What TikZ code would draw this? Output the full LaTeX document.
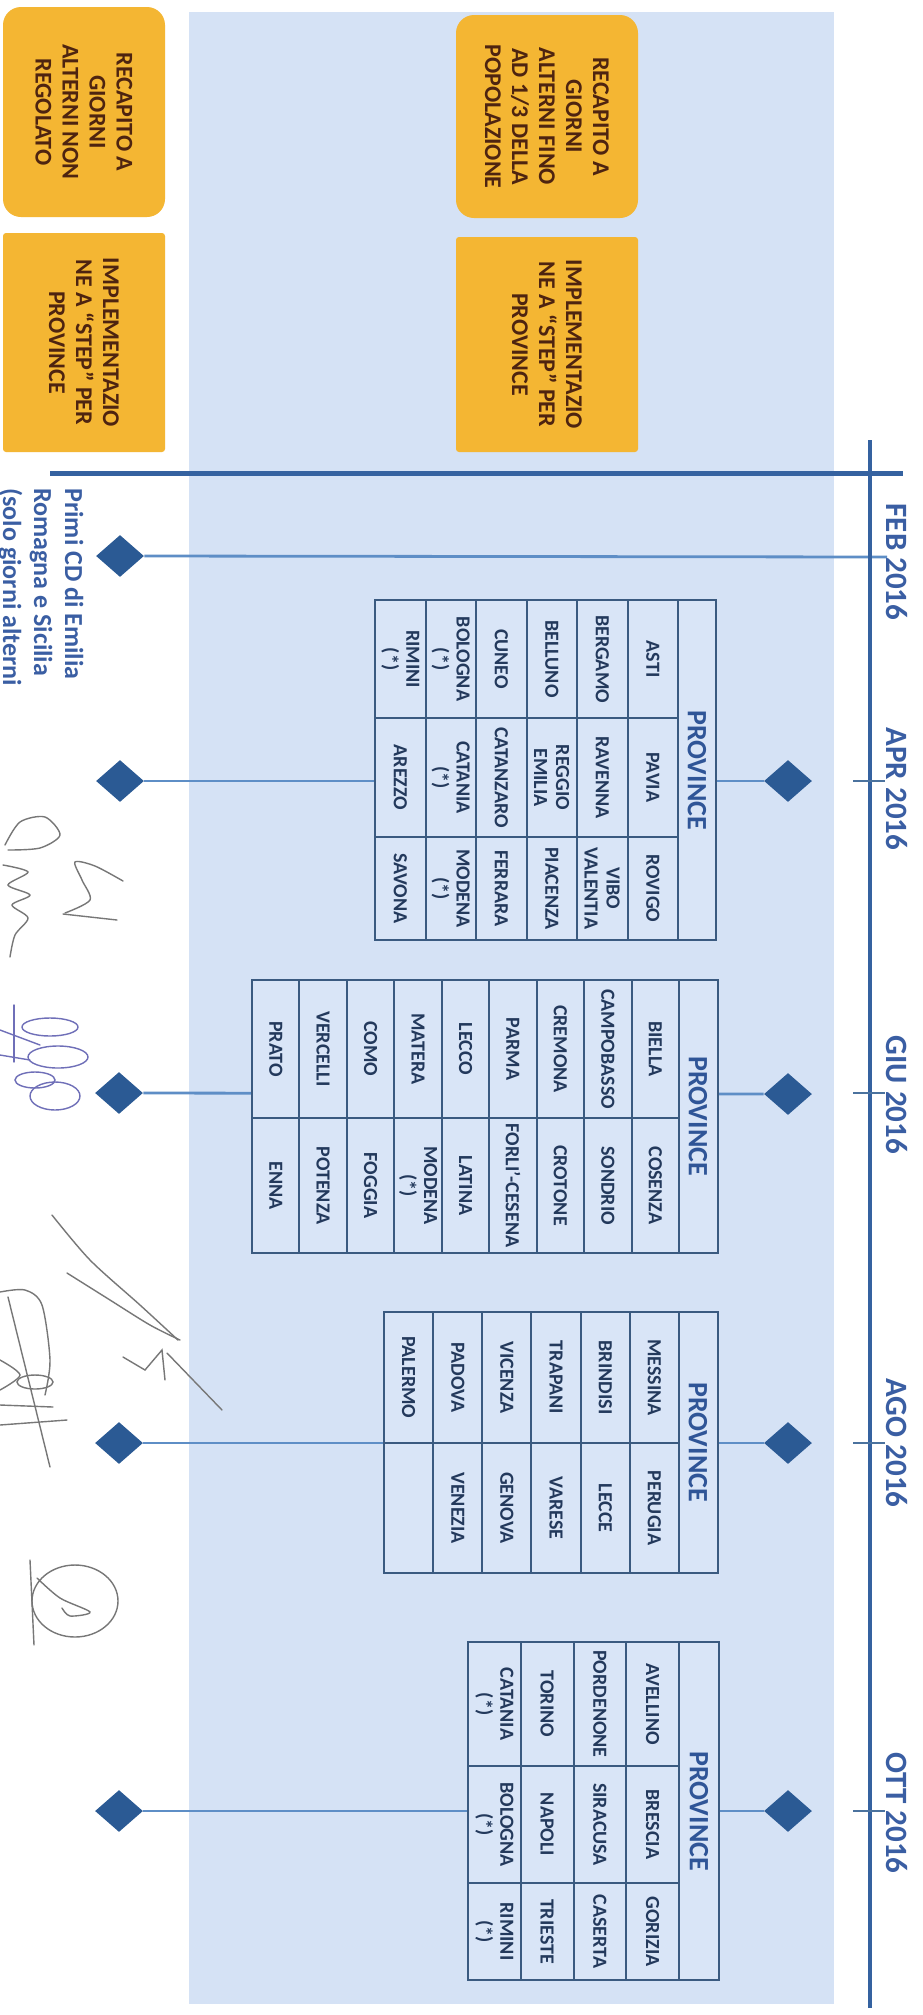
\documentclass[tikz,border=0pt]{standalone}
\usepackage{fontspec}
\setmainfont{Carlito}
\usetikzlibrary{shapes.geometric}
\definecolor{bgblue}{HTML}{D5E2F5}
\definecolor{tabfill}{HTML}{D9E5F7}
\definecolor{axisblue}{HTML}{3562A0}
\definecolor{diacol}{HTML}{2B5A94}
\definecolor{conncol}{HTML}{5E8EC6}
\definecolor{gold}{HTML}{F4B633}
\definecolor{goldtext}{HTML}{4E2410}
\definecolor{tabline}{HTML}{3A5A80}
\definecolor{tabtext}{HTML}{23395C}
\definecolor{hdrtext}{HTML}{2F5597}
\definecolor{lbltext}{HTML}{3A5EA3}
\definecolor{sigray}{HTML}{777777}
\definecolor{sigblue}{HTML}{6F6FB8}
\tikzset{
  obox/.style={fill=gold, rotate=-90, align=center, inner sep=0pt,
    font=\bfseries\fontsize{12}{13.5}\selectfont, text=goldtext},
  diam/.style={diamond, fill=diacol, minimum width=24pt, minimum height=21pt, inner sep=0pt},
  cellt/.style={rotate=-90, align=center, inner sep=0pt,
    font=\bfseries\fontsize{10}{11}\selectfont, text=tabtext},
  hdr/.style={rotate=-90, inner sep=0pt, font=\bfseries\fontsize{14}{16}\selectfont, text=hdrtext},
  datelbl/.style={rotate=-90, inner sep=0pt, font=\bfseries\fontsize{15.5}{18}\selectfont, text=lbltext},
  connline/.style={draw=conncol, line width=1.4pt},
  tabgrid/.style={draw=tabline, line width=1pt},
  tickln/.style={draw=conncol!80!black, line width=1pt},
  axisln/.style={draw=axisblue},
  sig/.style={draw=sigray, line width=0.7pt, line cap=round},
  sigb/.style={draw=sigblue, line width=0.7pt, line cap=round}
}
\begin{document}
\begin{tikzpicture}[x=0.5pt,y=-0.5pt]
\useasboundingbox (0,0) rectangle (922,2015);
\fill[white] (0,0) rectangle (922,2015);
% background panel
\fill[bgblue] (189,12) rectangle (834,2004);

% diamonds
\node[diam] (ldFeb) at (120,556) {};
\node[diam] (ldApr) at (120,781) {};
\node[diam] (ldGiu) at (119,1093) {};
\node[diam] (ldAgo) at (119,1443) {};
\node[diam] (ldOtt) at (119,1811) {};
\node[diam] (rdApr) at (788,781) {};
\node[diam] (rdGiu) at (788,1094) {};
\node[diam] (rdAgo) at (788,1443) {};
\node[diam] (rdOtt) at (788,1811) {};

% axis coordinates
\coordinate (tFeb) at (887,557);
\coordinate (tApr) at (870,781);
\coordinate (tGiu) at (870,1093);
\coordinate (tAgo) at (870,1443);
\coordinate (tOtt) at (870,1811);

% connectors
\draw[connline] (ldFeb.east) -- (tFeb);
\draw[connline] (rdApr.west) -- (ldApr.east);
\draw[connline] (rdGiu.west) -- (ldGiu.east);
\draw[connline] (rdAgo.west) -- (ldAgo.east);
\draw[connline] (rdOtt.west) -- (ldOtt.east);

% ===== APR table =====
\draw[tabgrid, fill=tabfill] (375,600) rectangle (716,940);
\draw[tabgrid] (678,600) -- (678,940);
\foreach \i in {1,...,5} \draw[tabgrid] ({678-\i*50.5},600) -- ({678-\i*50.5},940);
\draw[tabgrid] (375,718) -- (678,718);
\draw[tabgrid] (375,837) -- (678,837);
\node[hdr] (aprH) at (697,770) {PROVINCE};
\foreach \t [count=\k from 0] in {ASTI,PAVIA,ROVIGO,BERGAMO,RAVENNA,{VIBO\\VALENTIA},BELLUNO,{REGGIO\\EMILIA},PIACENZA,CUNEO,CATANZARO,FERRARA,{BOLOGNA\\(*)},{CATANIA\\(*)},{MODENA\\(*)},{RIMINI\\(*)},AREZZO,SAVONA}{
  \pgfmathtruncatemacro\r{int(\k/3)}
  \pgfmathtruncatemacro\c{mod(\k,3)}
  \pgfmathsetmacro\cx{678-(\r+0.5)*50.5}
  \pgfmathsetmacro\cy{{659,777.5,888.5}[\c]}
  \node[cellt] (apr-\k) at (\cx,\cy) {\t};
}

% ===== GIU table =====
\draw[tabgrid, fill=tabfill] (252,980) rectangle (718,1253);
\draw[tabgrid] (679,980) -- (679,1253);
\foreach \i in {1,...,8} \draw[tabgrid] ({679-\i*47.44},980) -- ({679-\i*47.44},1253);
\draw[tabgrid] (252,1118) -- (679,1118);
\node[hdr] (giuH) at (698,1116) {PROVINCE};
\foreach \t [count=\k from 0] in {BIELLA,COSENZA,CAMPOBASSO,SONDRIO,CREMONA,CROTONE,PARMA,FORLI'-CESENA,LECCO,LATINA,MATERA,{MODENA\\(*)},COMO,FOGGIA,VERCELLI,POTENZA,PRATO,ENNA}{
  \pgfmathtruncatemacro\r{int(\k/2)}
  \pgfmathtruncatemacro\c{mod(\k,2)}
  \pgfmathsetmacro\cx{679-(\r+0.5)*47.44}
  \pgfmathsetmacro\cy{{1049,1185.5}[\c]}
  \node[cellt] (giu-\k) at (\cx,\cy) {\t};
}

% ===== AGO table =====
\draw[tabgrid, fill=tabfill] (384,1312) rectangle (718,1573);
\draw[tabgrid] (679,1312) -- (679,1573);
\foreach \i in {1,...,5} \draw[tabgrid] ({679-\i*49.17},1312) -- ({679-\i*49.17},1573);
\draw[tabgrid] (384,1443) -- (679,1443);
\node[hdr] (agoH) at (698,1442) {PROVINCE};
\foreach \t [count=\k from 0] in {MESSINA,PERUGIA,BRINDISI,LECCE,TRAPANI,VARESE,VICENZA,GENOVA,PADOVA,VENEZIA,PALERMO}{
  \pgfmathtruncatemacro\r{int(\k/2)}
  \pgfmathtruncatemacro\c{mod(\k,2)}
  \pgfmathsetmacro\cx{679-(\r+0.5)*49.17}
  \pgfmathsetmacro\cy{{1377.5,1508}[\c]}
  \node[cellt] (ago-\k) at (\cx,\cy) {\t};
}

% ===== OTT table =====
\draw[tabgrid, fill=tabfill] (468,1642) rectangle (719,1980);
\draw[tabgrid] (679,1642) -- (679,1980);
\foreach \i in {1,...,3} \draw[tabgrid] ({679-\i*52.75},1642) -- ({679-\i*52.75},1980);
\draw[tabgrid] (468,1766) -- (679,1766);
\draw[tabgrid] (468,1883) -- (679,1883);
\node[hdr] (ottH) at (699,1811) {PROVINCE};
\foreach \t [count=\k from 0] in {AVELLINO,BRESCIA,GORIZIA,PORDENONE,SIRACUSA,CASERTA,TORINO,NAPOLI,TRIESTE,{CATANIA\\(*)},{BOLOGNA\\(*)},{RIMINI\\(*)}}{
  \pgfmathtruncatemacro\r{int(\k/3)}
  \pgfmathtruncatemacro\c{mod(\k,3)}
  \pgfmathsetmacro\cx{679-(\r+0.5)*52.75}
  \pgfmathsetmacro\cy{{1704,1824.5,1931.5}[\c]}
  \node[cellt] (ott-\k) at (\cx,\cy) {\t};
}

% ===== orange boxes =====
\node[obox, rounded corners=9pt, minimum width=101.5pt, minimum height=91pt] (boxA) at (547,116.5)
  {RECAPITO A\\GIORNI\\ALTERNI FINO\\AD 1/3 DELLA\\POPOLAZIONE};
\node[obox, rounded corners=1.5pt, minimum width=107.5pt, minimum height=91pt] (boxB) at (547,344.5)
  {IMPLEMENTAZIO\\NE A “STEP” PER\\PROVINCE};
\node[obox, rounded corners=9pt, minimum width=105pt, minimum height=81pt] (boxC) at (84,112)
  {RECAPITO A\\GIORNI\\ALTERNI NON\\REGOLATO};
\node[obox, rounded corners=1.5pt, minimum width=109.5pt, minimum height=81pt] (boxD) at (84,342.5)
  {IMPLEMENTAZIO\\NE A “STEP” PER\\PROVINCE};

% ===== timeline axis =====
\coordinate (hL) at (50,473);
\coordinate (hR) at (903,473);
\coordinate (vT) at (870,440);
\coordinate (vB) at (870,2008);
\draw[axisln, line width=2.5pt] (hL) -- (hR);
\draw[axisln, line width=2pt] (vT) -- (vB);
\foreach \yy in {781,1093,1443,1811} \draw[tickln] (853,\yy) -- (885,\yy);

% date labels
\node[datelbl] (lFeb) at (897,562) {FEB 2016};
\node[datelbl] (lApr) at (897,789) {APR 2016};
\node[datelbl] (lGiu) at (897,1095) {GIU 2016};
\node[datelbl] (lAgo) at (897,1443) {AGO 2016};
\node[datelbl] (lOtt) at (897,1813) {OTT 2016};

% left note
\node[rotate=-90, anchor=west, align=left, inner sep=0pt,
  font=\bfseries\fontsize{13}{15.5}\selectfont, text=lbltext] (note) at (41,488)
  {Primi CD di Emilia\\Romagna e Sicilia\\(solo giorni alterni};

% ===== handwritten signatures (approximate) =====
\draw[sig] plot[smooth] coordinates {(5,845) (20,822) (45,817) (60,835) (40,848) (8,850)};
\draw[sig] plot[smooth] coordinates {(3,865) (28,872) (8,885) (30,895) (12,905) (28,918) (15,935) (10,957)};
\draw[sig] plot[smooth] coordinates {(123,881) (95,866) (75,862) (82,880) (90,900) (65,913)};
\draw[sig] (63,914) -- (117,920);

\draw[sigb] (50,1027) ellipse [x radius=28, y radius=9];
\draw[sigb] (58,1057) ellipse [x radius=30, y radius=11];
\draw[sigb] (55,1096) ellipse [x radius=25, y radius=14];
\draw[sigb] (35,1080) ellipse [x radius=20, y radius=8];
\draw[sigb] (14,1005) -- (14,1062);
\draw[sigb] (0,1030) -- (40,1045);
\draw[sigb] (0,1055) -- (30,1060);

\draw[sig] plot[smooth] coordinates {(52,1215) (90,1260) (140,1305) (178,1340)};
\draw[sig] plot[smooth] coordinates {(67,1273) (110,1300) (150,1325) (180,1340)};
\draw[sig] (123,1357) -- (145,1370) -- (162,1350) -- (165,1380);
\draw[sig] (167,1353) -- (222,1410);

\draw[sig] plot[smooth] coordinates {(0,1292) (25,1290) (42,1305) (50,1360) (45,1395)};
\draw[sig] (8,1297) -- (50,1467);
\draw[sig] (0,1405) -- (53,1407);
\draw[sig] (0,1425) -- (67,1420);
\draw[sig] (35,1382) ellipse [x radius=18, y radius=7];
\draw[sig] plot[smooth] coordinates {(0,1360) (20,1375) (0,1390)};

\draw[sig] (75,1601) ellipse [x radius=43, y radius=36];
\draw[sig] (30,1560) -- (34,1645);
\draw[sig] plot[smooth] coordinates {(37,1578) (60,1598) (90,1612) (70,1616) (62,1608)};
\end{tikzpicture}
\end{document}
